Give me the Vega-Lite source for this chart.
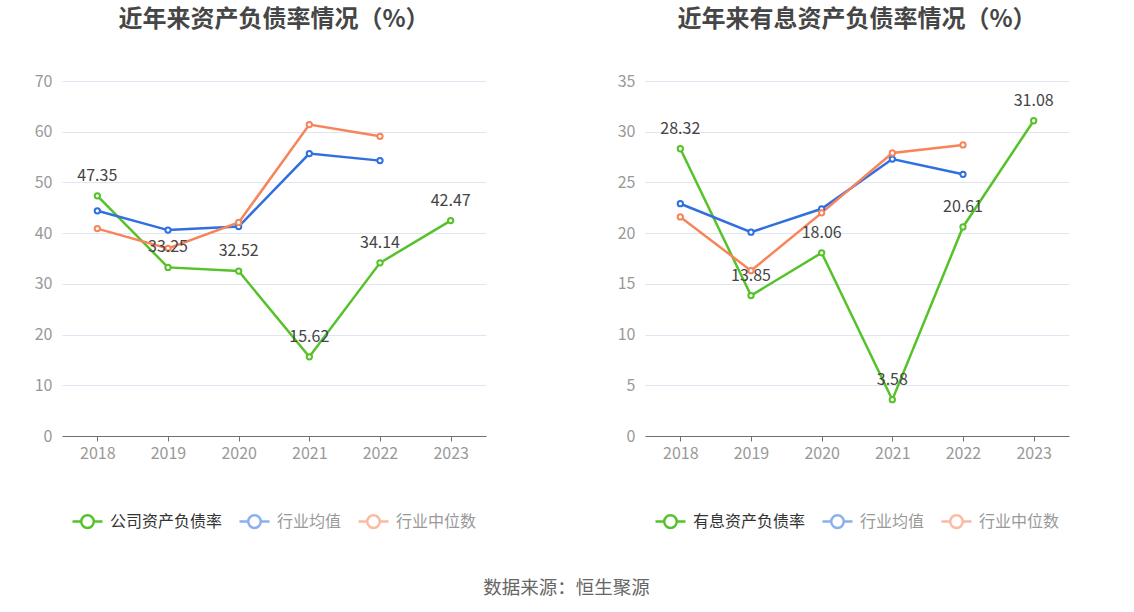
{
  "$schema": "https://vega.github.io/schema/vega-lite/v6.json",
  "background": "white",
  "padding": {"left": 34, "top": 8, "right": 10, "bottom": 10},
  "title": {"text": "数据来源：恒生聚源", "orient": "bottom", "anchor": "middle", "fontSize": 18.5, "fontWeight": "normal", "color": "#666666", "font": "Noto Sans CJK SC", "offset": 46, "dx": 15},
  "datasets": {
    "left": [
      {"year": "2018", "series": "公司资产负债率", "value": 47.35},
      {"year": "2019", "series": "公司资产负债率", "value": 33.25},
      {"year": "2020", "series": "公司资产负债率", "value": 32.52},
      {"year": "2021", "series": "公司资产负债率", "value": 15.62},
      {"year": "2022", "series": "公司资产负债率", "value": 34.14},
      {"year": "2023", "series": "公司资产负债率", "value": 42.47},
      {"year": "2018", "series": "行业均值", "value": 44.4},
      {"year": "2019", "series": "行业均值", "value": 40.6},
      {"year": "2020", "series": "行业均值", "value": 41.3},
      {"year": "2021", "series": "行业均值", "value": 55.7},
      {"year": "2022", "series": "行业均值", "value": 54.3},
      {"year": "2018", "series": "行业中位数", "value": 40.9},
      {"year": "2019", "series": "行业中位数", "value": 37.0},
      {"year": "2020", "series": "行业中位数", "value": 42.1},
      {"year": "2021", "series": "行业中位数", "value": 61.4},
      {"year": "2022", "series": "行业中位数", "value": 59.1}
    ],
    "right": [
      {"year": "2018", "series": "有息资产负债率", "value": 28.32},
      {"year": "2019", "series": "有息资产负债率", "value": 13.85},
      {"year": "2020", "series": "有息资产负债率", "value": 18.06},
      {"year": "2021", "series": "有息资产负债率", "value": 3.58},
      {"year": "2022", "series": "有息资产负债率", "value": 20.61},
      {"year": "2023", "series": "有息资产负债率", "value": 31.08},
      {"year": "2018", "series": "行业均值", "value": 22.9},
      {"year": "2019", "series": "行业均值", "value": 20.1},
      {"year": "2020", "series": "行业均值", "value": 22.4},
      {"year": "2021", "series": "行业均值", "value": 27.3},
      {"year": "2022", "series": "行业均值", "value": 25.8},
      {"year": "2018", "series": "行业中位数", "value": 21.6},
      {"year": "2019", "series": "行业中位数", "value": 16.3},
      {"year": "2020", "series": "行业中位数", "value": 22.0},
      {"year": "2021", "series": "行业中位数", "value": 27.9},
      {"year": "2022", "series": "行业中位数", "value": 28.7}
    ]
  },
  "spacing": 131,
  "resolve": {"scale": {"color": "independent", "y": "independent"}, "legend": {"color": "independent"}},
  "hconcat": [
    {
      "title": {"text": "近年来资产负债率情况（%）"},
      "width": 424,
      "height": 355,
      "data": {"name": "left"},
      "encoding": {
        "x": {"field": "year", "type": "ordinal", "scale": {"type": "point", "padding": 0.5}, "axis": {"title": null, "labelAngle": 0}},
        "y": {"field": "value", "type": "quantitative", "scale": {"domain": [0, 70]}, "axis": {"title": null, "values": [0, 10, 20, 30, 40, 50, 60, 70]}}
      },
      "layer": [
        {
          "mark": {"type": "line", "strokeWidth": 2.5, "point": {"filled": false, "fill": "white", "size": 28, "strokeWidth": 2}},
          "encoding": {
            "color": {"field": "series", "type": "nominal", "sort": ["公司资产负债率", "行业均值", "行业中位数"],
              "scale": {"domain": ["公司资产负债率", "行业均值", "行业中位数"], "range": ["#56c22a", "#2f6fe0", "#f7845a"]},
              "legend": {"title": null, "orient": "bottom", "direction": "horizontal",
                "encode": {
                  "labels": {"update": {"fill": {"signal": "datum.value === '公司资产负债率' ? '#333333' : '#999999'"}}},
                  "symbols": {"update": {"opacity": {"signal": "datum.value === '公司资产负债率' ? 1 : 0.55"}}}
                }}}
          }
        },
        {
          "transform": [{"filter": "datum.series == '公司资产负债率'"}],
          "mark": {"type": "text", "dy": -20, "fontSize": 16, "color": "#444444", "font": "Noto Sans CJK SC"},
          "encoding": {"text": {"field": "value", "type": "quantitative", "format": ".2f"}}
        }
      ]
    },
    {
      "title": {"text": "近年来有息资产负债率情况（%）"},
      "width": 424,
      "height": 355,
      "data": {"name": "right"},
      "encoding": {
        "x": {"field": "year", "type": "ordinal", "scale": {"type": "point", "padding": 0.5}, "axis": {"title": null, "labelAngle": 0}},
        "y": {"field": "value", "type": "quantitative", "scale": {"domain": [0, 35]}, "axis": {"title": null, "values": [0, 5, 10, 15, 20, 25, 30, 35]}}
      },
      "layer": [
        {
          "mark": {"type": "line", "strokeWidth": 2.5, "point": {"filled": false, "fill": "white", "size": 28, "strokeWidth": 2}},
          "encoding": {
            "color": {"field": "series", "type": "nominal", "sort": ["有息资产负债率", "行业均值", "行业中位数"],
              "scale": {"domain": ["有息资产负债率", "行业均值", "行业中位数"], "range": ["#56c22a", "#2f6fe0", "#f7845a"]},
              "legend": {"title": null, "orient": "bottom", "direction": "horizontal",
                "encode": {
                  "labels": {"update": {"fill": {"signal": "datum.value === '有息资产负债率' ? '#333333' : '#999999'"}}},
                  "symbols": {"update": {"opacity": {"signal": "datum.value === '有息资产负债率' ? 1 : 0.55"}}}
                }}}
          }
        },
        {
          "transform": [{"filter": "datum.series == '有息资产负债率'"}],
          "mark": {"type": "text", "dy": -20, "fontSize": 16, "color": "#444444", "font": "Noto Sans CJK SC"},
          "encoding": {"text": {"field": "value", "type": "quantitative", "format": ".2f"}}
        }
      ]
    }
  ],
  "config": {
    "font": "Noto Sans CJK SC",
    "view": {"stroke": null},
    "title": {"fontSize": 24, "fontWeight": "bold", "color": "#464646", "anchor": "middle", "offset": 41},
    "axisX": {"domainColor": "#6e7079", "tickColor": "#6e7079", "tickSize": 5, "labelColor": "#999999", "labelFontSize": 16, "labelPadding": 4, "grid": false, "domainWidth": 1},
    "axisY": {"domain": false, "ticks": false, "gridColor": "#e0e6f1", "labelColor": "#999999", "labelFontSize": 16, "labelPadding": 10},
    "legend": {
      "offset": 44,
      "symbolType": "M-1,0L-0.42,0M0.42,0L1,0M0.42,0A0.42,0.42 0 1,1 -0.42,0A0.42,0.42 0 1,1 0.42,0",
      "symbolSize": 900,
      "symbolStrokeWidth": 2.5,
      "symbolFillColor": "white",
      "labelFontSize": 16,
      "labelColor": "#333333",
      "labelOffset": 6,
      "columnPadding": 11,
      "layout": {"bottom": {"anchor": "middle"}}
    }
  }
}
